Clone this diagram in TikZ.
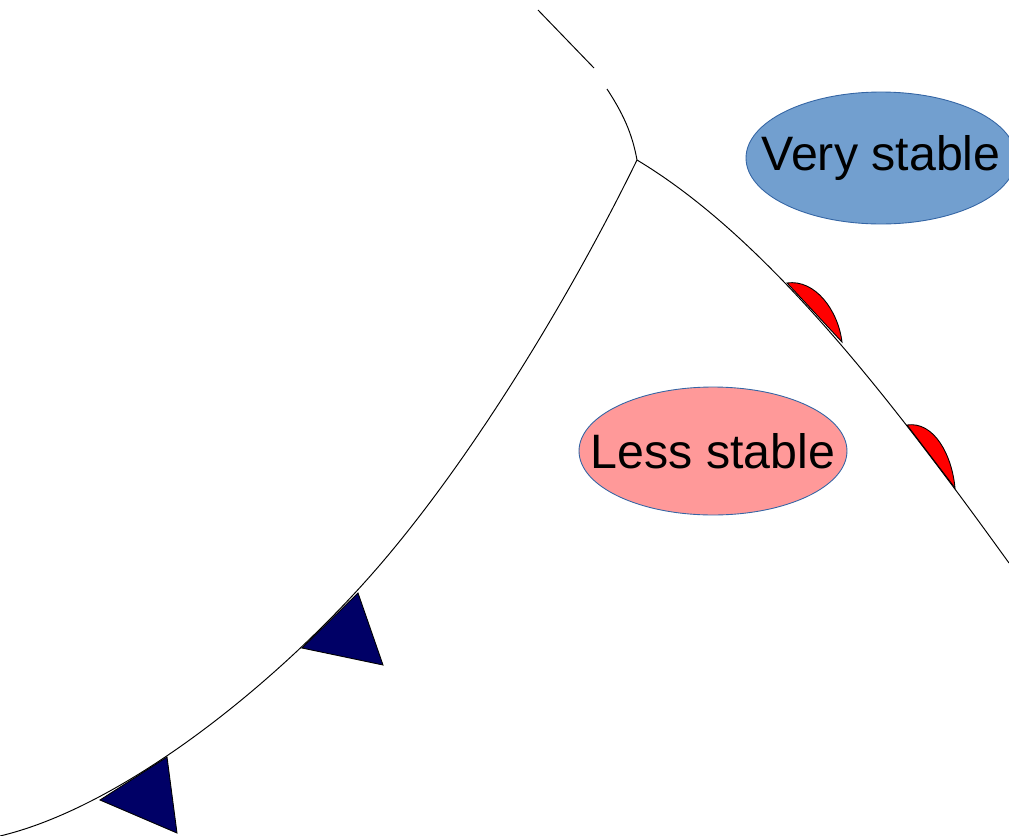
\documentclass[tikz,border=0pt]{standalone}
\usepackage{fontspec}
\setmainfont{Liberation Sans}
\usepackage{xcolor}
\usepackage{tikz}
\usetikzlibrary{shapes.geometric}

\definecolor{stableblue}{RGB}{114,159,207}
\definecolor{lesspink}{RGB}{255,153,153}
\definecolor{rimblue}{RGB}{52,101,164}
\definecolor{coldnavy}{RGB}{0,0,102}

\begin{document}
\begin{tikzpicture}[
  x=0.02cm, y=-0.02cm,
  font=\fontsize{27.5}{32}\selectfont,
  zone/.style={draw=rimblue, line width=0.5pt, ellipse, inner sep=0pt},
  front/.style={line width=0.55pt},
  warmbump/.style={draw, fill=red, line width=0.5pt},
  coldtri/.style={draw, fill=coldnavy, line width=0.5pt}
]
  \useasboundingbox (0,0) rectangle (1009,836);
  % air masses
  \node[zone, fill=stableblue, minimum width=5.4cm, minimum height=2.64cm,
        label=center:Very stable] (vstable) at (881,158) {};
  \node[zone, fill=lesspink, minimum width=5.36cm, minimum height=2.56cm,
        label=center:Less stable] (lstable) at (713,451) {};
  % occlusion point
  \coordinate (junc) at (637,160);
  \coordinate (occA) at (538,10);
  \coordinate (occB) at (594,68);
  \coordinate (occC) at (607,89);
  \draw[front] (occA) -- (occB);
  \draw[front] (occC) .. controls (622,112) and (632,132) .. (junc);
  % warm front
  \coordinate (warmend) at (1009,563);
  \draw[front] (junc) .. controls (767,238) and (890,398) .. (warmend);
  \draw[warmbump] (787,283) .. controls (815,279) and (838,310) .. (842,342) -- cycle;
  \draw[warmbump] (907,425) .. controls (934,421) and (952,455) .. (955,488) -- cycle;
  % cold front
  \coordinate (coldmid) at (390,553);
  \coordinate (coldend) at (0,836);
  \draw[front] (junc) .. controls (572,293) and (480,445) .. (coldmid)
               .. controls (292,671) and (130,805) .. (coldend);
  \draw[coldtri] (302,648) -- (358,593) -- (383,665) -- cycle;
  \draw[coldtri] (100,800) -- (167,757) -- (177,833) -- cycle;
\end{tikzpicture}
\end{document}
